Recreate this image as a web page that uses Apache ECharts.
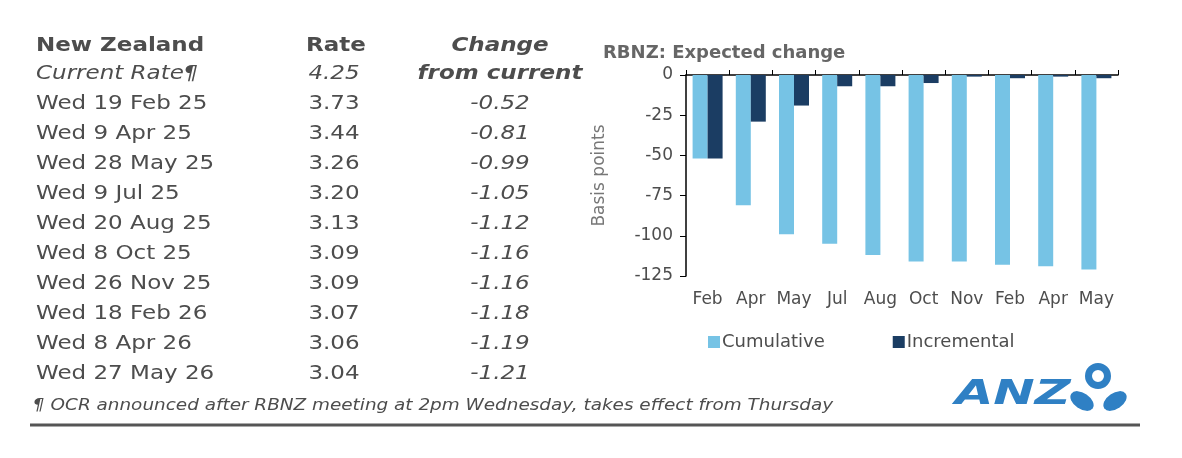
<!DOCTYPE html>
<html>
<head>
<meta charset="utf-8">
<script src="https://cdn.jsdelivr.net/npm/echarts@6/dist/echarts.min.js"></script>
<style>
  html, body { margin: 0; padding: 0; background: #fff; }
  #chart { width: 1182px; height: 458px; }
</style>
</head>
<body>
<div id="chart"></div>
<script>
// chart data
const categories = ["Feb", "Apr", "May", "Jul", "Aug", "Oct", "Nov", "Feb", "Apr", "May"];
const cumulative = [-52, -81, -99, -105, -112, -116, -116, -118, -119, -121];
const incremental = [-52, -29, -19, -7, -7, -5, -1, -2, -1, -2];

// table data
const meetingDates = ["Wed 19 Feb 25", "Wed 9 Apr 25", "Wed 28 May 25", "Wed 9 Jul 25", "Wed 20 Aug 25",
  "Wed 8 Oct 25", "Wed 26 Nov 25", "Wed 18 Feb 26", "Wed 8 Apr 26", "Wed 27 May 26"];
const rates = ["3.73", "3.44", "3.26", "3.20", "3.13", "3.09", "3.09", "3.07", "3.06", "3.04"];
const changes = ["-0.52", "-0.81", "-0.99", "-1.05", "-1.12", "-1.16", "-1.16", "-1.18", "-1.19", "-1.21"];
const currentRate = "4.25";

const textColor = "#4d4d4d";
const font = "DejaVu Sans";

// text helper for the table part, stretched a bit to match the original
function txt(str, x, y, o) {
  o = o || {};
  return {
    type: "text",
    x: x,
    y: y,
    scaleX: o.scaleX || 1.15,
    style: {
      text: str,
      fontSize: o.size || 20,
      fontFamily: font,
      fontWeight: o.bold ? "bold" : "normal",
      fontStyle: o.italic ? "italic" : "normal",
      fill: o.color || textColor,
      textAlign: o.align || "left",
      align: o.align || "left",
      textVerticalAlign: "middle",
      verticalAlign: "middle"
    }
  };
}

const graphics = [];
graphics.push(txt("New Zealand", 36, 46, { bold: true }));
graphics.push(txt("Rate", 336, 46, { bold: true, align: "center" }));
graphics.push(txt("Change", 500, 46, { bold: true, italic: true, align: "center" }));
graphics.push(txt("Current Rate\u00b6", 36, 74, { italic: true }));
graphics.push(txt(currentRate, 334, 74, { italic: true, align: "center" }));
graphics.push(txt("from current", 500, 74, { bold: true, italic: true, align: "center" }));
meetingDates.forEach(function (d, i) {
  const y = 104 + i * 30;
  graphics.push(txt(d, 36, y));
  graphics.push(txt(rates[i], 334, y, { align: "center" }));
  graphics.push(txt(changes[i], 500, y, { italic: true, align: "center" }));
});
graphics.push(txt("\u00b6 OCR announced after RBNZ meeting at 2pm Wednesday, takes effect from Thursday", 33, 406,
  { size: 16, italic: true }));

// bottom rule
graphics.push({
  type: "line",
  shape: { x1: 30, y1: 425, x2: 1140, y2: 425 },
  style: { stroke: "#555", lineWidth: 3 }
});

// ANZ logo (rough)
const anzBlue = "#2f80c4";
graphics.push(txt("ANZ", 955, 395, { size: 33, bold: true, italic: true, color: anzBlue, scaleX: 1.5 }));
graphics.push({
  type: "ring",
  shape: { cx: 1098, cy: 376, r: 13, r0: 6 },
  style: { fill: anzBlue }
});
graphics.push({
  type: "circle",
  x: 1082, y: 401, scaleX: 1.3, scaleY: 0.8, rotation: -0.6,
  shape: { cx: 0, cy: 0, r: 10 },
  style: { fill: anzBlue }
});
graphics.push({
  type: "circle",
  x: 1115, y: 401, scaleX: 1.3, scaleY: 0.8, rotation: 0.6,
  shape: { cx: 0, cy: 0, r: 10 },
  style: { fill: anzBlue }
});

const myChart = echarts.init(document.getElementById("chart"));

const option = {
  animation: false,
  textStyle: { fontFamily: font },
  title: {
    text: "RBNZ: Expected change",
    left: 598,
    top: 39,
    textStyle: { fontSize: 18, fontWeight: "bold", color: "#666", fontFamily: font }
  },
  legend: {
    data: ["Cumulative", "Incremental"],
    left: 703,
    top: 328,
    icon: "rect",
    itemWidth: 12,
    itemHeight: 12,
    itemGap: 68,
    textStyle: { fontSize: 18, color: textColor, padding: [0, 0, 0, -3] }
  },
  grid: {
    left: 686,
    right: 64,
    top: 75,
    bottom: 182
  },
  xAxis: [
    {
      type: "category",
      data: categories,
      position: "bottom",
      axisLine: { show: false, onZero: false },
      axisTick: { show: false },
      axisLabel: { fontSize: 17, color: textColor, margin: 15, interval: 0 }
    },
    {
      type: "category",
      data: categories,
      position: "top",
      axisLine: { show: true, onZero: false, lineStyle: { color: "#000", width: 1.5 } },
      axisTick: { show: true, length: 5, lineStyle: { color: "#000" } },
      axisLabel: { show: false }
    }
  ],
  yAxis: {
    type: "value",
    min: -125,
    max: 0,
    interval: 25,
    name: "Basis points",
    nameLocation: "middle",
    nameRotate: 90,
    nameGap: 78,
    nameTextStyle: { fontSize: 17, color: "#777" },
    axisLine: { show: true, lineStyle: { color: "#000", width: 1.5 } },
    axisTick: { show: true, length: 6, lineStyle: { color: "#000" } },
    axisLabel: { fontSize: 17, color: textColor, margin: 13 },
    splitLine: { show: false }
  },
  series: [
    {
      name: "Cumulative",
      type: "bar",
      data: cumulative,
      barWidth: 15,
      barGap: "0%",
      itemStyle: { color: "#76c3e5" }
    },
    {
      name: "Incremental",
      type: "bar",
      data: incremental,
      barWidth: 15,
      barGap: "0%",
      itemStyle: { color: "#1b3d63" }
    }
  ],
  graphic: graphics
};

myChart.setOption(option);
</script>
</body>
</html>
